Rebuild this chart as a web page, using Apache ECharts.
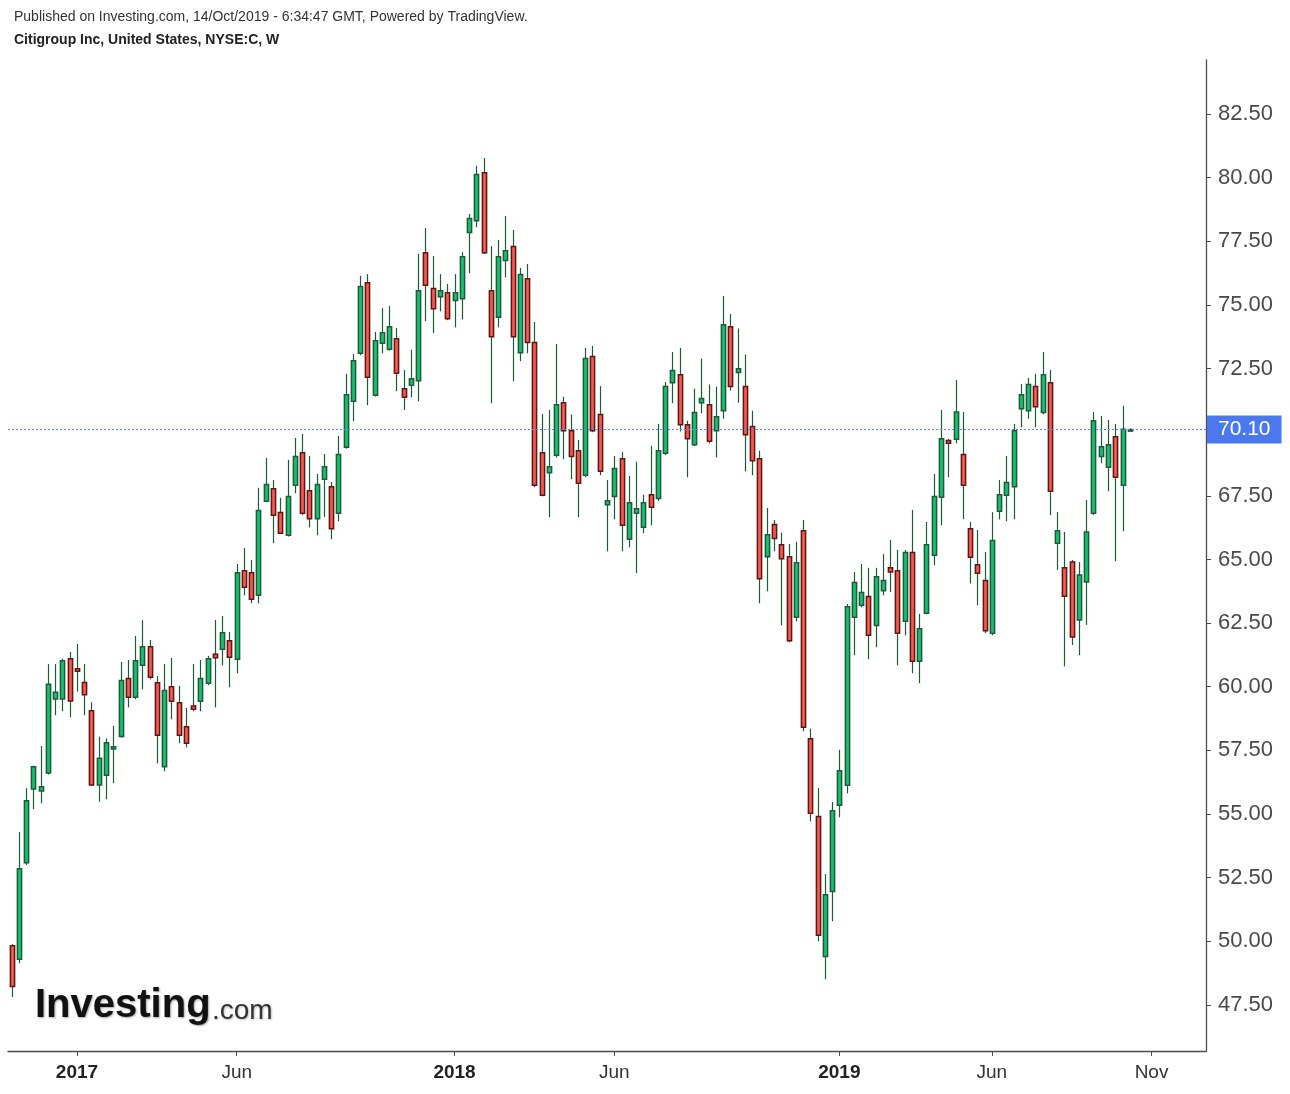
<!DOCTYPE html>
<html><head><meta charset="utf-8">
<script src="https://cdn.jsdelivr.net/npm/echarts@6/dist/echarts.min.js"></script>
<style>html,body{margin:0;padding:0;background:#fff}#c{width:1290px;height:1094px}</style>
</head><body><div id="c"></div>
<script>
var startWeek = '2016-10-31';
var weekCount = 165;
var opens = [49.82,49.29,53.09,55.98,55.90,56.61,59.52,59.52,61.10,60.71,60.17,59.06,56.14,56.52,57.55,58.04,60.32,59.59,60.84,61.57,
60.16,56.86,60.00,59.37,58.43,59.24,59.43,60.14,61.28,61.47,61.81,61.08,64.56,64.48,63.59,67.29,67.78,66.84,65.95,67.91,
69.19,67.70,66.60,68.15,67.86,66.81,69.41,71.21,73.10,75.87,71.45,73.49,73.26,73.67,71.71,71.84,72.02,77.05,75.64,75.32,
75.48,75.17,75.24,77.84,78.31,80.19,75.56,74.51,76.74,77.29,73.12,76.03,73.52,69.19,68.41,69.09,71.16,70.06,69.27,68.31,
72.97,70.69,67.15,67.47,68.96,65.79,66.81,66.26,67.54,67.39,69.17,71.94,72.26,70.29,69.51,71.16,71.08,70.06,70.84,74.14,
72.34,71.79,70.22,68.96,65.11,66.37,65.58,65.11,62.73,66.13,57.96,54.90,49.40,51.96,55.34,56.13,62.73,63.20,63.54,62.41,
63.77,64.67,64.56,62.57,65.27,61.00,62.89,65.16,67.44,69.67,69.72,69.12,66.21,64.79,64.17,62.10,66.89,67.52,67.86,70.92,
70.84,71.79,70.77,71.94,65.64,64.67,64.90,62.62,64.11,66.81,69.04,68.62,69.82,67.91,70.10];
var closes = [48.22,52.85,55.52,56.86,56.07,60.10,59.78,61.02,59.44,60.61,59.68,56.14,57.19,57.80,57.64,60.24,59.59,61.02,61.57,60.37,
58.09,59.85,59.43,58.09,57.78,59.12,60.32,61.10,61.14,62.12,61.16,64.48,63.91,63.44,66.92,67.94,66.74,66.03,67.47,69.04,
66.81,66.60,67.94,68.64,66.21,69.12,71.47,72.81,75.72,72.16,73.59,73.91,74.14,72.31,71.37,72.10,75.56,75.77,74.85,75.56,
74.46,75.48,76.89,78.39,80.12,77.05,73.75,76.89,77.13,73.75,76.19,73.52,67.91,67.52,68.64,71.08,70.06,69.04,67.99,72.89,
70.06,68.46,67.31,68.57,66.34,67.23,66.99,67.23,67.05,69.27,71.79,72.42,70.29,69.74,70.77,71.32,69.64,70.61,74.22,71.79,
72.49,69.90,68.88,64.24,65.97,65.82,65.03,61.81,64.87,58.41,55.03,50.24,51.83,55.13,56.70,63.14,64.09,63.70,62.02,64.32,
64.17,64.51,62.10,65.27,61.00,62.28,65.58,67.47,69.74,69.56,70.79,67.91,65.09,64.46,62.20,65.74,67.54,68.02,70.06,71.47,
71.87,71.00,72.26,67.68,66.13,63.55,61.95,64.39,66.08,70.45,69.43,69.51,68.23,70.11,70.10];
var lows = [47.81,49.14,53.00,55.19,55.42,56.55,58.88,59.04,58.80,59.81,58.88,56.10,55.48,55.58,56.21,58.00,59.19,59.51,59.90,60.29,
56.99,56.68,58.72,57.78,57.62,59.04,59.04,60.06,59.19,60.84,59.98,60.53,63.59,63.28,63.28,67.25,65.64,66.00,65.90,67.60,
66.74,66.26,65.95,66.66,65.79,66.50,69.35,70.43,73.02,71.06,71.40,73.10,73.20,71.61,70.87,71.37,71.21,74.36,73.89,74.75,
74.40,74.12,74.43,76.24,78.05,77.00,71.14,74.12,76.08,72.00,72.79,73.10,67.84,67.48,66.66,69.00,68.94,68.15,66.66,68.23,
70.00,68.31,65.32,66.58,65.32,65.48,64.46,66.03,66.34,67.30,69.10,71.14,70.03,68.23,69.45,70.74,69.56,69.01,70.53,71.63,
71.16,68.46,68.31,63.28,63.75,65.32,62.41,61.75,62.57,58.25,54.71,50.00,48.51,50.79,54.87,55.81,61.24,63.12,61.08,61.55,
63.59,63.72,60.84,62.02,60.53,60.14,62.85,64.77,66.34,68.23,69.56,66.58,64.06,63.20,62.10,62.02,66.58,66.50,66.58,70.19,
70.53,70.19,70.70,66.74,64.59,60.80,61.64,61.24,62.43,66.75,68.78,67.68,64.93,66.11,70.05];
var highs = [49.89,54.29,56.01,56.90,57.67,60.89,60.89,61.10,61.37,61.68,60.89,59.39,58.04,57.97,58.46,60.97,61.05,61.99,62.62,61.84,
60.42,60.89,61.13,60.03,59.17,60.89,61.05,61.21,62.62,62.78,62.15,64.82,65.45,64.98,67.81,68.99,68.12,67.42,68.91,69.77,
69.93,69.06,68.36,69.14,68.04,69.85,72.29,73.07,76.14,76.21,73.94,74.88,74.96,74.09,72.44,73.23,77.00,78.02,76.92,76.21,
75.82,76.21,77.08,78.57,80.46,80.77,77.31,77.55,78.49,77.94,76.45,76.61,74.33,70.71,70.87,73.46,71.39,70.69,69.69,73.31,
73.39,71.81,68.12,69.06,69.22,68.28,68.83,67.54,69.46,70.32,71.97,73.15,73.31,70.45,71.71,72.89,71.87,71.79,75.35,74.64,
74.07,73.05,70.84,69.27,67.02,66.55,66.05,65.61,65.69,66.55,58.35,56.02,52.64,55.47,57.52,63.25,64.51,64.82,64.67,64.67,
65.21,65.77,65.37,65.37,66.94,62.86,66.47,68.36,70.87,69.74,72.05,70.79,66.47,66.16,65.29,66.86,68.12,69.06,70.32,71.89,
72.13,72.29,73.15,72.44,66.86,66.08,64.98,64.90,67.34,70.79,70.64,70.48,70.32,71.03,70.15];
var tickDates = ['2017-01-02','2017-06-05','2018-01-01','2018-06-04','2019-01-07','2019-06-03','2019-11-04'];
var tickTexts = ['2017','Jun','2018','Jun','2019','Jun','Nov'];
var yTicks = [47.5,50,52.5,55,57.5,60,62.5,65,67.5,70,72.5,75,77.5,80,82.5];
var lastPrice = 70.10;

var weeks = [];
(function(){
  var t = Date.parse(startWeek + 'T00:00:00Z');
  for (var i = 0; i < weekCount; i++) {
    weeks.push(new Date(t + i * 7 * 86400000).toISOString().slice(0, 10));
  }
})();
var tickMap = {};
tickDates.forEach(function(d, i){ tickMap[d] = tickTexts[i]; });
var candleData = opens.map(function(o, i){ return [i, o, closes[i], lows[i], highs[i]]; });

var UP = '#16c26f', UPB = '#1f5a3b', DN = '#f25b4e', DNB = '#5c1716', WICK = '#1f5a3b';
var LINE = '#5a82f2';
var FONT = '"Liberation Sans", Arial, sans-serif';

var chart = echarts.init(document.getElementById('c'), null, {renderer: 'canvas'});
chart.setOption({
  animation: false,
  backgroundColor: '#ffffff',
  grid: {left: 8, right: 84, top: 60, bottom: 43, containLabel: false},
  xAxis: {
    type: 'category', data: weeks, boundaryGap: true,
    axisLine: {show: true, lineStyle: {color: '#4d4d4d', width: 1.3}},
    axisTick: {show: true, alignWithLabel: true, length: 5, lineStyle: {color: '#4d4d4d'},
      interval: function(idx, val){ return tickMap[val] !== undefined; }},
    axisLabel: {
      interval: function(idx, val){ return tickMap[val] !== undefined; },
      margin: 12, fontFamily: FONT, fontSize: 19, color: '#333333',
      formatter: function(val){ var t = tickMap[val]; if (!t) return ''; return /^\d{4}$/.test(t) ? '{y|' + t + '}' : t; },
      rich: {y: {fontFamily: FONT, fontSize: 19, fontWeight: 'bold', color: '#222222'}}
    },
    splitLine: {show: false}
  },
  yAxis: {
    type: 'value', position: 'right', min: 45.69, max: 84.62, scale: true,
    axisLine: {show: true, lineStyle: {color: '#4d4d4d', width: 1.3}},
    axisTick: {show: true, length: 5, customValues: yTicks, lineStyle: {color: '#4d4d4d'}},
    axisLabel: {customValues: yTicks, margin: 12, fontFamily: FONT, fontSize: 22, color: '#4a4a4a', padding: [3, 0, 0, 0],
      formatter: function(v){ return Number(v).toFixed(2); }},
    splitLine: {show: false}
  },
  graphic: [
    {type: 'text', left: 14, top: 10, style: {text: 'Published on Investing.com, 14/Oct/2019 - 6:34:47 GMT, Powered by TradingView.', font: '14px ' + FONT, fill: '#333333'}},
    {type: 'text', left: 14, top: 33, style: {text: 'Citigroup Inc, United States, NYSE:C, W', font: 'bold 14px ' + FONT, fill: '#222222'}},
    {type: 'text', left: 35, top: 986, style: {text: 'Investing', font: 'bold 40px ' + FONT, fill: '#111111', textShadowColor: 'rgba(0,0,0,0.35)', textShadowBlur: 2, textShadowOffsetX: 1, textShadowOffsetY: 1}},
    {type: 'text', left: 212, top: 997, style: {text: '.com', font: '28px ' + FONT, fill: '#333333', textShadowColor: 'rgba(0,0,0,0.25)', textShadowBlur: 2, textShadowOffsetX: 1, textShadowOffsetY: 1}}
  ],
  series: [
    {
      type: 'custom', name: 'C', data: candleData,
      encode: {x: 0, y: [1, 2, 3, 4]},
      renderItem: function(params, api){
        var idx = api.value(0), o = api.value(1), c = api.value(2), l = api.value(3), h = api.value(4);
        var pO = api.coord([idx, o]), pC = api.coord([idx, c]), pL = api.coord([idx, l]), pH = api.coord([idx, h]);
        var x = Math.round(pO[0]) + 0.5;
        var up = c >= o;
        var top = Math.min(pO[1], pC[1]), bot = Math.max(pO[1], pC[1]);
        var hg = Math.max(bot - top, 1.5);
        var w = 4.2;
        return {type: 'group', children: [
          {type: 'line', shape: {x1: x, y1: pH[1], x2: x, y2: pL[1]}, style: {stroke: WICK, lineWidth: 1.2}},
          {type: 'rect', shape: {x: x - w / 2, y: top, width: w, height: hg}, style: {fill: up ? UP : DN, stroke: up ? UPB : DNB, lineWidth: 1.5}}
        ]};
      },
      markLine: {
        silent: true, symbol: ['none', 'none'], animation: false, precision: 2,
        lineStyle: {color: LINE, type: [2, 2], width: 1, opacity: 1},
        label: {show: true, position: 'end', distance: 1, formatter: lastPrice.toFixed(2),
          backgroundColor: '#4a78ee', color: '#ffffff', fontFamily: FONT, fontSize: 21, padding: [4, 11, 3, 11]},
        data: [{yAxis: lastPrice, lineStyle: {color: LINE, type: [2, 2], width: 1}}]
      }
    }
  ]
});
</script>
</body></html>
